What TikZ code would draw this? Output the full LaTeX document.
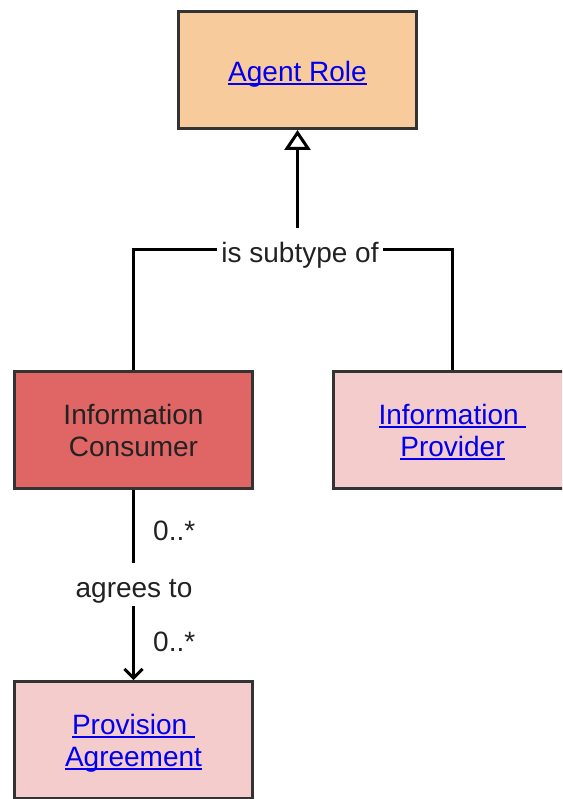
\documentclass[tikz,border=0pt]{standalone}
\usepackage{fontspec}
\setmainfont{Liberation Sans}
\usetikzlibrary{arrows.meta}
\definecolor{agentfill}{HTML}{F8CB9C}
\definecolor{consfill}{HTML}{E06666}
\definecolor{pinkfill}{HTML}{F4CCCC}
\definecolor{boxline}{HTML}{333333}
\definecolor{linkblue}{HTML}{0000EE}
\definecolor{txt}{HTML}{222222}
\newcommand\lnk[1]{\setbox0\hbox{#1}\rlap{\rule[-3.2pt]{\wd0}{1.6pt}}\box0}
\newcommand\boxtext[2][-4pt]{\raisebox{#1}[\height][\depth]{\begin{tabular}{@{}c@{}}#2\end{tabular}}}
\tikzset{
  box/.style={draw=boxline, line width=3pt, minimum width=238pt, minimum height=117pt,
    align=center, inner sep=0pt, font=\fontsize{28}{32}\selectfont},
  linktext/.style={text=linkblue},
  conn/.style={line width=3pt, draw=black},
  lbl/.style={font=\fontsize{28}{32}\selectfont, text=txt, inner sep=0pt},
  cutlbl/.style={lbl, fill=white, inner xsep=4pt, inner ysep=0pt, anchor=base}
}
\begin{document}
\begin{tikzpicture}[x=1pt,y=-1pt]
\useasboundingbox (0,0) rectangle (562,799);
\clip (0,0) rectangle (562,799);
\node[box, fill=agentfill, linktext] (agent) at (297.5,70) {\boxtext[-5pt]{\lnk{Agent Role}}};
\node[box, fill=consfill, text=txt] (cons) at (133.5,430) {\boxtext{Information\\Consumer}};
\node[box, fill=pinkfill, linktext] (prov) at (452.5,430) {\boxtext{\lnk{Information\ }\\\lnk{Provider}}};
\node[box, fill=pinkfill, linktext] (pa) at (133.5,740) {\boxtext{\lnk{Provision\ }\\\lnk{Agreement}}};
\coordinate (j) at (297.5,250);
\draw[conn] (cons.north) |- (j);
\draw[conn] (prov.north) |- (j);
\draw[conn, -{Triangle[open, length=20pt, width=26pt]}] (j) -- (agent.south);
\node[cutlbl, text height=34pt, text depth=6pt] (sub) at (300,262) {is subtype of};
\draw[conn, -{Straight Barb[length=9pt, width=18pt]}] (cons.south) -- (pa.north);
\node[cutlbl, text height=34pt, text depth=9pt] (agr) at (134,597) {agrees to};
\node[lbl, anchor=west] (m1) at (153,531) {0..*};
\node[lbl, anchor=west] (m2) at (153,642) {0..*};
\end{tikzpicture}
\end{document}
